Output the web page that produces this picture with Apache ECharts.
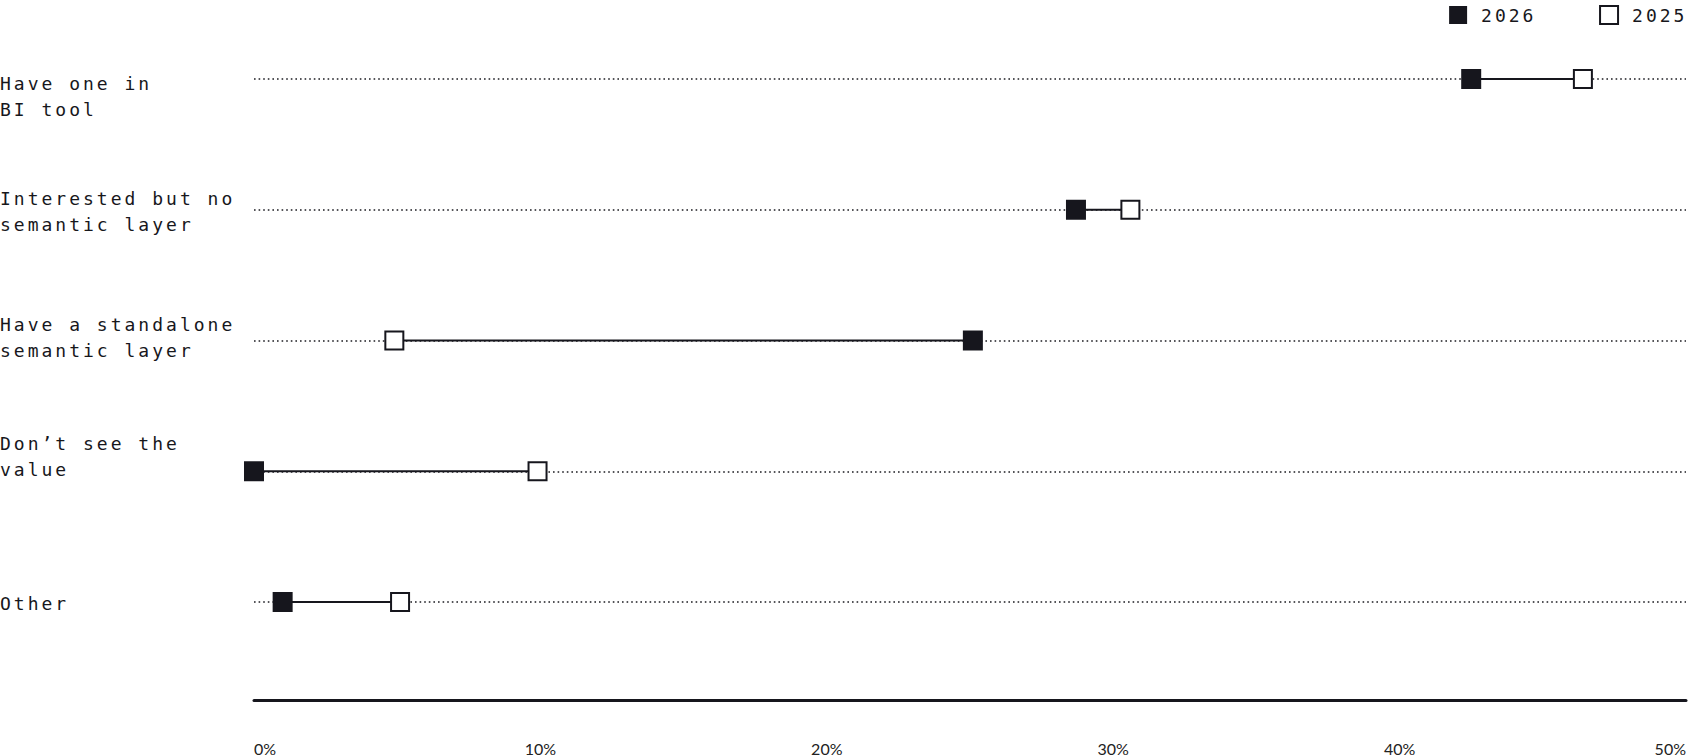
<!DOCTYPE html>
<html>
<head>
<meta charset="utf-8">
<script src="https://cdn.jsdelivr.net/npm/echarts@6/dist/echarts.min.js"></script>
<style>
  html, body { margin: 0; padding: 0; background: #fff; }
  #chart { width: 1688px; height: 756px; }
  #chart text[style*="Mono"] { letter-spacing: 3px; }
</style>
</head>
<body>
<div id="chart"></div>
<script>
// ---- data ----
const categories = [
  'Have one in\nBI tool',
  'Interested but no\nsemantic layer',
  'Have a standalone\nsemantic layer',
  'Don\u2019t see the\nvalue',
  'Other'
];
const values2026 = [42.5, 28.7, 25.1, 0, 1.0];
const values2025 = [46.4, 30.6, 4.9, 9.9, 5.1];
const seriesNames = ['2026', '2025'];
const xTicks = [0, 10, 20, 30, 40, 50];

// ---- layout (label vertical nudges, px) ----
const labelShift = [17, 2, -3, -15, 1];

const INK = '#16161d';

const rich = {};
labelShift.forEach((s, i) => {
  rich['sp' + i] = { fontSize: 1, lineHeight: Math.max(1, Math.abs(2 * s)) };
});

function labelFormatter(value, index) {
  const s = labelShift[index];
  if (s > 0) return '{sp' + index + '| }\n' + value;
  if (s < 0) return value + '\n{sp' + index + '| }';
  return value;
}

const connectors = categories.map((c, i) => ({
  type: 'line',
  silent: true,
  symbol: 'none',
  z: 2,
  lineStyle: { color: INK, width: 2 },
  data: [[values2026[i], i], [values2025[i], i]]
}));

const chart = echarts.init(document.getElementById('chart'), null, { renderer: 'svg' });
chart.setOption({
  animation: false,
  backgroundColor: '#ffffff',
  grid: { left: 254, right: 2, top: 79, bottom: 154, outerBoundsMode: 'none', containLabel: false },
  legend: {
    right: 12.6,
    top: 5,
    padding: 0,
    itemWidth: 18,
    itemHeight: 18,
    itemGap: 74.6,
    icon: 'rect',
    textStyle: { fontFamily: 'DejaVu Sans Mono', fontSize: 18, color: '#17171c', padding: [0, 0, 0, 9] },
    data: [
      { name: seriesNames[0], itemStyle: { color: INK, borderWidth: 0 } },
      { name: seriesNames[1], itemStyle: { color: '#ffffff', borderColor: INK, borderWidth: 2 } }
    ]
  },
  xAxis: {
    type: 'value',
    min: xTicks[0],
    max: xTicks[xTicks.length - 1],
    interval: xTicks[1] - xTicks[0],
    offset: 98,
    axisLine: { show: true, lineStyle: { color: INK, width: 3 } },
    axisTick: { show: false },
    splitLine: { show: false },
    axisLabel: {
      formatter: '{value}%',
      margin: 40,
      fontFamily: 'Lato',
      fontSize: 16,
      color: '#222222',
      alignMinLabel: 'left',
      alignMaxLabel: 'right'
    }
  },
  yAxis: {
    type: 'category',
    inverse: true,
    boundaryGap: false,
    data: categories,
    axisLine: { show: false },
    axisTick: { show: false },
    splitLine: {
      show: true,
      interval: 0,
      lineStyle: { color: '#1c1c22', width: 1.6, type: [1.6, 3] }
    },
    axisLabel: {
      interval: 0,
      align: 'left',
      verticalAlign: 'middle',
      margin: 254,
      fontFamily: 'DejaVu Sans Mono',
      fontSize: 18,
      lineHeight: 26,
      color: '#17171c',
      formatter: labelFormatter,
      rich: rich
    }
  },
  series: [
    ...connectors,
    {
      name: seriesNames[0],
      type: 'scatter',
      symbol: 'rect',
      symbolSize: 20,
      z: 3,
      itemStyle: { color: INK, opacity: 1 },
      data: values2026.map((v, i) => [v, i])
    },
    {
      name: seriesNames[1],
      type: 'scatter',
      symbol: 'rect',
      symbolSize: 18,
      z: 4,
      itemStyle: { color: '#ffffff', borderColor: INK, borderWidth: 2, opacity: 1 },
      data: values2025.map((v, i) => [v, i])
    }
  ]
});
</script>
</body>
</html>
